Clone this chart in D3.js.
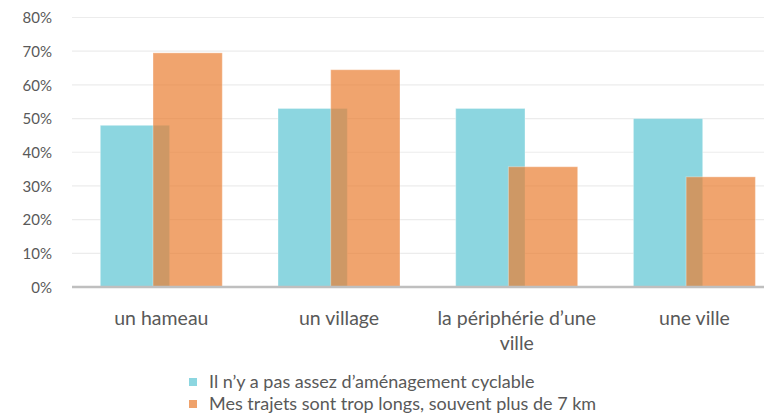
<!DOCTYPE html>
<html>
<head>
<meta charset="utf-8">
<script src="https://cdn.jsdelivr.net/npm/d3@7"></script>
<style>
body{margin:0;background:#fff;}
svg{display:block;font-family:Lato,"Open Sans",sans-serif;}
.tick text{fill:#595959;}
</style>
</head>
<body>
<div id="chart"></div>
<script>
let categories=["un hameau","un village","la périphérie d’une ville","une ville"];
let catLines=[["un hameau"],["un village"],["la périphérie d’une","ville"],["une ville"]];
let seriesNames=["Il n’y a pas assez d’aménagement cyclable","Mes trajets sont trop longs, souvent plus de 7 km"];
let amenagement=[0.48,0.53,0.53,0.50];
let trajets=[0.695,0.645,0.357,0.327];
let yTicks=[0,0.1,0.2,0.3,0.4,0.5,0.6,0.7,0.8];
let colors=["#8cd6e0","#e97e31"];

let width=764, height=414;
let y0=287, y1=17.5;

let chart=d3.select("#chart").append("svg")
.attr("width",width).attr("height",height);

let x=d3.scaleBand().domain(categories).range([72.5,783.3]);
let xs=d3.scalePoint().domain(seriesNames).range([27.8,80.5]);
let barW=69.3;
let y=d3.scaleLinear().domain([0,0.8]).range([y0,y1]);

// gridlines
chart.append("g").selectAll("line")
.data(yTicks.slice(1))
.enter().append("line")
.attr("x1",72).attr("x2",width)
.attr("y1",d=>y(d)).attr("y2",d=>y(d))
.attr("stroke","#ececec").attr("stroke-width",1.2);

// y axis labels
let yAxis=d3.axisLeft(y).tickValues(yTicks).tickFormat(d3.format(".0%")).tickSize(0).tickPadding(0);
chart.append("g").attr("transform","translate(52,0)").call(yAxis)
.call(g=>g.select(".domain").remove())
.selectAll("text").attr("font-size",15).attr("font-family","Lato,sans-serif").attr("dy","0.35em");

let rows=categories.map((c,i)=>({cat:c,vals:[amenagement[i],trajets[i]]}));

let groups=chart.append("g").selectAll("g")
.data(rows).enter().append("g")
.attr("transform",d=>"translate("+x(d.cat)+",0)");

groups.selectAll("rect")
.data(d=>d.vals.map((v,j)=>({key:seriesNames[j],v:v,j:j})))
.enter().append("rect")
.attr("x",d=>xs(d.key))
.attr("width",barW)
.attr("y",d=>y(d.v))
.attr("height",d=>y(0)-y(d.v))
.attr("fill",d=>colors[d.j])
.attr("fill-opacity",d=>d.j===1?0.7:1)
.attr("stroke","#fff").attr("stroke-opacity",0.35).attr("stroke-width",1);

// x axis line
chart.append("line")
.attr("x1",72).attr("x2",width)
.attr("y1",y0).attr("y2",y0)
.attr("stroke","#bfbfbf").attr("stroke-width",2.5);

// category labels
let labs=chart.append("g").selectAll("text")
.data(categories).enter().append("text")
.attr("x",d=>x(d)+x.bandwidth()/2)
.attr("y",325)
.attr("text-anchor","middle")
.attr("font-size",19.5)
.attr("fill","#595959");
labs.each(function(d,i){
  d3.select(this).selectAll("tspan")
  .data(catLines[i]).enter().append("tspan")
  .attr("x",x(d)+x.bandwidth()/2)
  .attr("dy",(t,k)=>k===0?0:25)
  .text(t=>t);
});

// legend
let leg=chart.append("g").selectAll("g")
.data(seriesNames).enter().append("g")
.attr("transform",(d,i)=>"translate(189,"+(382+i*22)+")");
leg.append("rect").attr("x",0).attr("y",-4).attr("width",8).attr("height",8)
.attr("fill",(d,i)=>i===1?"#efa26b":colors[0]);
leg.append("text").attr("x",20).attr("y",0).attr("dy","0.35em")
.attr("font-size",18).attr("fill","#595959").text(d=>d);
</script>
</body>
</html>
